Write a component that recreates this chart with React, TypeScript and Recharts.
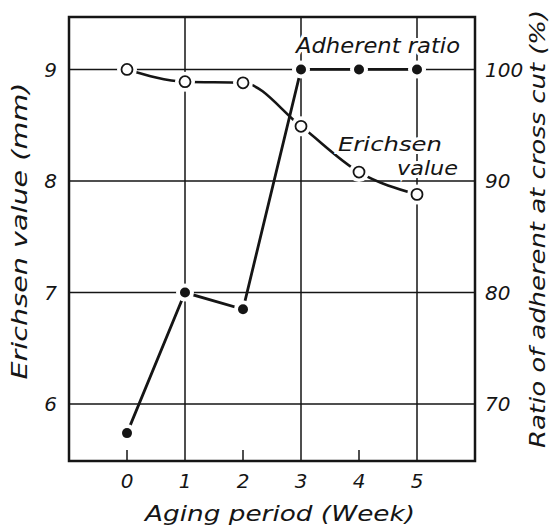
import React from 'react';
import {
  LineChart,
  Line,
  XAxis,
  YAxis,
  ReferenceLine,
  ReferenceArea,
} from 'recharts';

const weeks = [0, 1, 2, 3, 4, 5];
const erichsenMm = [9.0, 8.89, 8.88, 8.49, 8.08, 7.88];
const adherentPct = [67.4, 80.0, 78.5, 100, 100, 100];

const leftTicks = [6, 7, 8, 9];
const rightTicks = [70, 80, 90, 100];
const gridWeeks = [1, 3, 5];

const data = weeks.map((w, i) => ({ week: w, erichsen: erichsenMm[i], adherent: adherentPct[i] }));

const INK = '#151515';
const FONT = '"DejaVu Sans", sans-serif';

const OpenDot = (props: any) => {
  const { cx, cy } = props;
  if (cx == null || cy == null) return null;
  return (
    <g>
      <circle cx={cx} cy={cy} r={10} fill="#fff" />
      <circle cx={cx} cy={cy} r={5.5} fill="#fff" stroke={INK} strokeWidth={1.8} />
    </g>
  );
};

const FilledDot = (props: any) => {
  const { cx, cy } = props;
  if (cx == null || cy == null) return null;
  return (
    <g>
      <circle cx={cx} cy={cy} r={9} fill="#fff" />
      <circle cx={cx} cy={cy} r={5} fill={INK} />
    </g>
  );
};

// week labels, with a short inward tick on the even weeks
const WeekTick = (props: any) => {
  const { x, y, payload } = props;
  const v = payload.value;
  return (
    <g>
      {v % 2 === 0 && <line x1={x} x2={x} y1={y} y2={y - 11} stroke={INK} strokeWidth={1.5} />}
      <text x={x} y={y + 27} textAnchor="middle" fontSize={20} fontStyle="italic" fontFamily={FONT} fill={INK}>
        {v}
      </text>
    </g>
  );
};

const halo = { stroke: '#fff', strokeWidth: 6, paintOrder: 'stroke' as const };

export default function App() {
  return (
    <div style={{ position: 'absolute', left: 0, top: 0, width: 549, height: 528, background: '#fff' }}>
      <LineChart width={549} height={528} data={data} margin={{ top: 17, right: 0, bottom: 0, left: 0 }}>
        <XAxis
          dataKey="week"
          type="number"
          domain={[-1, 6]}
          ticks={weeks}
          allowDataOverflow
          axisLine={false}
          tickLine={false}
          tickSize={0}
          tickMargin={0}
          height={67}
          tick={<WeekTick />}
        />
        <YAxis
          yAxisId="left"
          domain={[5.49, 9.47]}
          ticks={leftTicks}
          allowDataOverflow
          width={69}
          axisLine={false}
          tickLine={false}
          tickSize={0}
          tickMargin={12}
          tick={{ fontSize: 20, fontStyle: 'italic', fontFamily: FONT, fill: INK }}
        />
        <YAxis
          yAxisId="right"
          orientation="right"
          domain={[64.9, 104.7]}
          ticks={rightTicks}
          allowDataOverflow
          width={74}
          axisLine={false}
          tickLine={false}
          tickSize={0}
          tickMargin={10}
          tick={{ fontSize: 20, fontStyle: 'italic', fontFamily: FONT, fill: INK }}
        />
        {leftTicks.map((v) => (
          <ReferenceLine key={'h' + v} yAxisId="left" y={v} stroke={INK} strokeWidth={1.5} />
        ))}
        {gridWeeks.map((w) => (
          <ReferenceLine key={'v' + w} yAxisId="left" x={w} stroke={INK} strokeWidth={1.5} />
        ))}
        <ReferenceArea
          yAxisId="left"
          x1={-1}
          x2={6}
          y1={5.49}
          y2={9.47}
          fill="none"
          fillOpacity={0}
          stroke={INK}
          strokeWidth={2.5}
        />
        <Line
          yAxisId="left"
          type="monotone"
          dataKey="erichsen"
          stroke={INK}
          strokeWidth={2.6}
          dot={<OpenDot />}
          activeDot={false}
          isAnimationActive={false}
        />
        <Line
          yAxisId="right"
          type="linear"
          dataKey="adherent"
          stroke={INK}
          strokeWidth={2.8}
          dot={<FilledDot />}
          activeDot={false}
          isAnimationActive={false}
        />
      </LineChart>
      <svg
        width={549}
        height={528}
        style={{ position: 'absolute', left: 0, top: 0, pointerEvents: 'none' }}
        fontFamily={FONT}
        fontStyle="italic"
        fill={INK}
      >
        <text x={296} y={53} fontSize={22} textLength={164} lengthAdjust="spacingAndGlyphs" {...halo}>
          Adherent ratio
        </text>
        <text x={338} y={151} fontSize={20} textLength={104} lengthAdjust="spacingAndGlyphs" {...halo}>
          Erichsen
        </text>
        <text x={397} y={175} fontSize={20} textLength={61} lengthAdjust="spacingAndGlyphs" {...halo}>
          value
        </text>
        <text x={145} y={521} fontSize={22} textLength={270} lengthAdjust="spacingAndGlyphs">
          Aging period (Week)
        </text>
        <text
          x={0}
          y={0}
          fontSize={22}
          textAnchor="middle"
          textLength={297}
          lengthAdjust="spacingAndGlyphs"
          transform="translate(27 231) rotate(-90)"
        >
          Erichsen value (mm)
        </text>
        <text
          x={0}
          y={0}
          fontSize={22}
          textAnchor="middle"
          textLength={438}
          lengthAdjust="spacingAndGlyphs"
          transform="translate(545 229) rotate(-90)"
        >
          Ratio of adherent at cross cut (%)
        </text>
      </svg>
    </div>
  );
}
